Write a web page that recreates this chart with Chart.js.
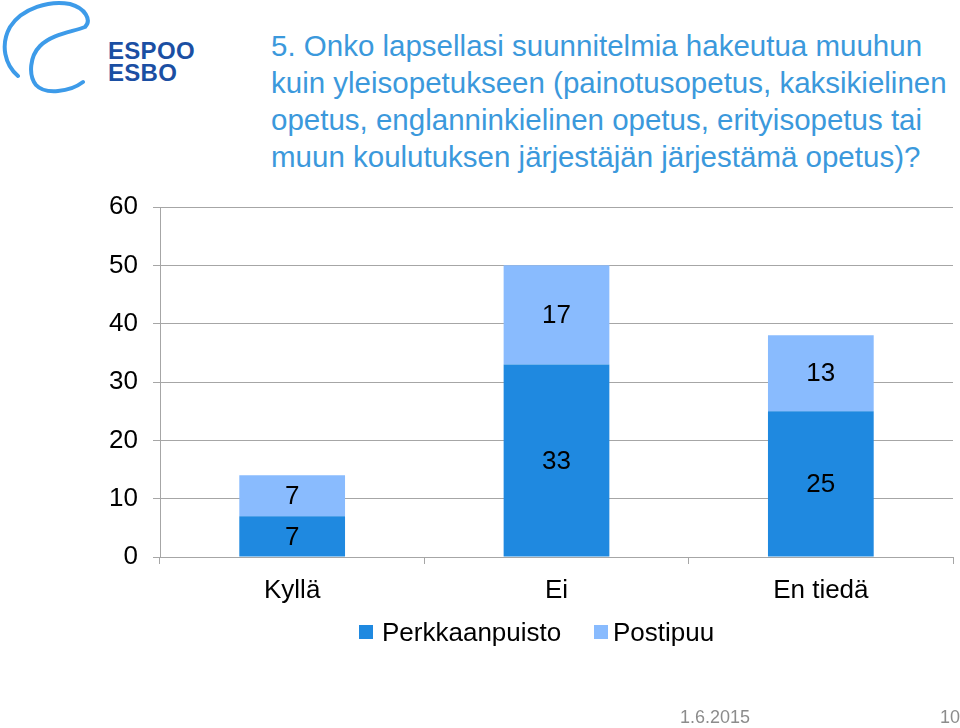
<!DOCTYPE html>
<html>
<head>
<meta charset="utf-8">
<title>Onko lapsellasi suunnitelmia hakeutua muuhun kuin yleisopetukseen</title>
<script src="https://cdn.jsdelivr.net/npm/chart.js@4.4.1/dist/chart.umd.min.js"></script>
<style>
    html, body { margin: 0; padding: 0; background: #fff; }
    body { width: 960px; height: 728px; position: relative; overflow: hidden; font-family: "Liberation Sans", Arial, sans-serif; }
    #chart { position: absolute; left: 0; top: 0; }
    .title {
        position: absolute; left: 271px; top: 27px;
        font-size: 29.5px; line-height: 37px; color: #3b99dc;
        white-space: nowrap;
    }
    .logo { position: absolute; left: 0; top: 0; }
    .brand {
        position: absolute; left: 108px; font-weight: bold; font-size: 24px;
        color: #1b4fa3; letter-spacing: 0.3px; line-height: 24px;
    }
    .legend { position: absolute; top: 616px; font-size: 26px; line-height: 32px; white-space: nowrap; }
    .legend span.box { position: absolute; top: 9px; width: 14px; height: 14px; }
    .legend span.txt { position: absolute; white-space: nowrap; }
    .footer { position: absolute; top: 707px; font-size: 18px; color: #8c8c8c; }
</style>
</head>
<body>
<svg class="logo" width="100" height="100" viewBox="0 0 100 100">
    <path d="M18 76 C 5 65, 0 45, 10 27 C 22 8, 50 0, 70 4 C 85 8, 92 20, 85 27 C 72 32, 52 34, 40 46 C 30 56, 28 75, 36 85 C 45 95, 70 92, 83 82"
          fill="none" stroke="#3d9be9" stroke-width="4" stroke-linecap="round"/>
</svg>
<div class="brand" style="top:39px">ESPOO</div>
<div class="brand" style="top:61px">ESBO</div>

<div class="title">
    5. Onko lapsellasi suunnitelmia hakeutua muuhun<br>
    kuin yleisopetukseen (painotusopetus, kaksikielinen<br>
    opetus, englanninkielinen opetus, erityisopetus tai<br>
    muun koulutuksen järjestäjän järjestämä opetus)?
</div>

<canvas id="chart" width="960" height="728"></canvas>

<div class="legend" id="legend"></div>

<div class="footer" style="left:680px">1.6.2015</div>
<div class="footer" style="left:940px">10</div>

<script>
    // chart data
    const categories = ['Kyllä', 'Ei', 'En tiedä'];
    const seriesNames = ['Perkkaanpuisto', 'Postipuu'];
    const perkkaanpuisto = [7, 33, 25];
    const postipuu = [7, 17, 13];
    const yTicks = [0, 10, 20, 30, 40, 50, 60];

    const colors = {
        dark: '#1f89e0',
        light: '#89bbfe',
        grid: '#a6a6a6'
    };

    const font = { family: '"Liberation Sans", Arial, sans-serif', size: 26 };

    // draws the value in the middle of every bar segment
    const barValues = {
        id: 'barValues',
        afterDatasetsDraw(chart) {
            const ctx = chart.ctx;
            ctx.save();
            ctx.font = '26px ' + font.family;
            ctx.fillStyle = '#000';
            ctx.textAlign = 'center';
            ctx.textBaseline = 'middle';
            chart.data.datasets.forEach((ds, i) => {
                const meta = chart.getDatasetMeta(i);
                meta.data.forEach((bar, j) => {
                    const v = ds.data[j];
                    if (!v) return;
                    ctx.fillText(String(v), bar.x, (bar.y + bar.base) / 2 + 1);
                });
            });
            ctx.restore();
        }
    };

    const chart = new Chart(document.getElementById('chart'), {
        type: 'bar',
        data: {
            labels: categories,
            datasets: [
                { label: seriesNames[0], data: perkkaanpuisto, backgroundColor: colors.dark, borderWidth: 0 },
                { label: seriesNames[1], data: postipuu, backgroundColor: colors.light, borderWidth: 0 }
            ]
        },
        options: {
            responsive: false,
            animation: false,
            events: [],
            layout: { padding: { top: 207, right: 7, bottom: 111, left: 0 } },
            datasets: { bar: { categoryPercentage: 0.8, barPercentage: 0.5 } },
            scales: {
                x: {
                    stacked: true,
                    grid: { drawOnChartArea: false, drawTicks: true, tickLength: 7, color: colors.grid },
                    border: { color: colors.grid },
                    ticks: { color: '#000', font: font, padding: 11, maxRotation: 0 },
                    afterFit(scale) { scale.height = 60; }
                },
                y: {
                    stacked: true,
                    min: 0,
                    max: 60,
                    afterBuildTicks(scale) { scale.ticks = yTicks.map(v => ({ value: v })); },
                    grid: { color: colors.grid, tickLength: 7 },
                    border: { color: colors.grid },
                    ticks: { color: '#000', font: font, padding: 15 },
                    afterFit(scale) { scale.width = 160; }
                }
            },
            plugins: {
                legend: { display: false },
                tooltip: { enabled: false }
            }
        },
        plugins: [barValues]
    });

    // legend below the chart, built from the dataset colours
    const legendPos = [{ box: 359, txt: 382 }, { box: 594, txt: 613 }];
    const legend = document.getElementById('legend');
    chart.data.datasets.forEach((ds, i) => {
        const box = document.createElement('span');
        box.className = 'box';
        box.style.left = legendPos[i].box + 'px';
        box.style.background = ds.backgroundColor;
        const txt = document.createElement('span');
        txt.className = 'txt';
        txt.style.left = legendPos[i].txt + 'px';
        txt.textContent = ds.label;
        legend.appendChild(box);
        legend.appendChild(txt);
    });
</script>
</body>
</html>
